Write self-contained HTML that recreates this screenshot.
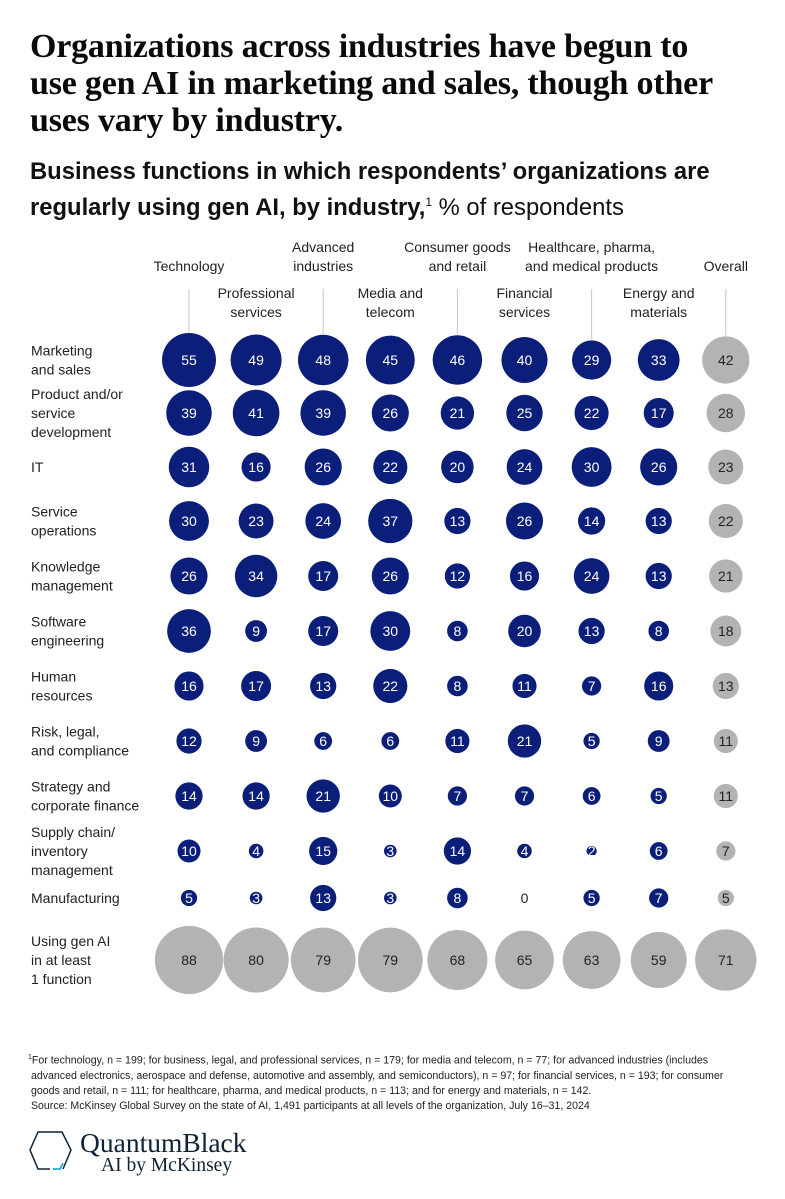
<!DOCTYPE html>
<html><head><meta charset="utf-8"><style>
body{margin:0;background:#fff;width:785px;height:1199px;overflow:hidden;font-family:"Liberation Sans",sans-serif;color:#111}
#title{position:absolute;left:30px;top:28px;width:690px;font-family:"Liberation Serif",serif;font-size:34px;line-height:37px;font-weight:bold;color:#0a0a0a;letter-spacing:-0.2px}
#sub{position:absolute;left:30px;top:156px;width:740px;font-size:23.8px;line-height:31px;color:#111}
#foot{position:absolute;left:28px;top:1050px;width:745px;font-size:10.6px;line-height:15px;color:#222}
</style></head><body>
<div id="title">Organizations across industries have begun to use gen AI in marketing and sales, though other uses vary by industry.</div>
<div id="sub"><b>Business functions in which respondents’ organizations are regularly using gen AI, by industry,</b><sup style="font-size:12px">1</sup> % of respondents</div>
<svg id="chart" width="785" height="1199" style="position:absolute;left:0;top:0"></svg>
<div id="foot"><sup style="font-size:7px">1</sup>For technology, n = 199; for business, legal, and professional services, n = 179; for media and telecom, n = 77; for advanced industries (includes<br>&nbsp;advanced electronics, aerospace and defense, automotive and assembly, and semiconductors), n = 97; for financial services, n = 193; for consumer<br>&nbsp;goods and retail, n = 111; for healthcare, pharma, and medical products, n = 113; and for energy and materials, n = 142.<br>&nbsp;Source: McKinsey Global Survey on the state of AI, 1,491 participants at all levels of the organization, July 16–31, 2024</div>
<svg width="260" height="60" style="position:absolute;left:28px;top:1128px">
<polyline points="22,41 10,41 2,22 10,4 34,4 43,22 35,41" fill="none" stroke="#0e2236" stroke-width="1.5"/>
<polyline points="25,41 32,41 35,35" fill="none" stroke="#2aa6e8" stroke-width="1.8"/>
<rect x="23" y="38" width="1.5" height="6" fill="#fff"/>
<text x="52" y="24" font-family="Liberation Serif,serif" font-size="27.5" fill="#0e2236">QuantumBlack</text>
<text x="73" y="43" font-family="Liberation Serif,serif" font-size="19.5" fill="#0e2236">AI by McKinsey</text>
</svg>
<script>
const industries=["Technology","Professional services","Advanced industries","Media and telecom","Consumer goods and retail","Financial services","Healthcare, pharma, and medical products","Energy and materials","Overall"];
const functions=["Marketing and sales","Product and/or service development","IT","Service operations","Knowledge management","Software engineering","Human resources","Risk, legal, and compliance","Strategy and corporate finance","Supply chain/ inventory management","Manufacturing","Using gen AI in at least 1 function"];
const v0=[55,39,31,30,26,36,16,12,14,10,5,88];
const v1=[49,41,16,23,34,9,17,9,14,4,3,80];
const v2=[48,39,26,24,17,17,13,6,21,15,13,79];
const v3=[45,26,22,37,26,30,22,6,10,3,3,79];
const v4=[46,21,20,13,12,8,8,11,7,14,8,68];
const v5=[40,25,24,26,16,20,11,21,7,4,0,65];
const v6=[29,22,30,14,24,13,7,5,6,2,5,63];
const v7=[33,17,26,13,13,8,16,9,5,6,7,59];
const v8=[42,28,23,22,21,18,13,11,11,7,5,71];
const values=[v0,v1,v2,v3,v4,v5,v6,v7,v8];
const headerLines=[["Technology"],["Professional","services"],["Advanced","industries"],["Media and","telecom"],["Consumer goods","and retail"],["Financial","services"],["Healthcare, pharma,","and medical products"],["Energy and","materials"],["Overall"]];
const rowLines=[["Marketing","and sales"],["Product and/or","service","development"],["IT"],["Service","operations"],["Knowledge","management"],["Software","engineering"],["Human","resources"],["Risk, legal,","and compliance"],["Strategy and","corporate finance"],["Supply chain/","inventory","management"],["Manufacturing"],["Using gen AI","in at least","1 function"]];
const NS="http://www.w3.org/2000/svg";
const svg=document.getElementById('chart');
const xCol=i=>189+i*67.1;
const rowY=[360,413,467,521,576,631,686,741,796,851,898,960];
const yRow=j=>rowY[j];
const rScale=v=>3.64*Math.sqrt(v);
function mk(t,a){const e=document.createElementNS(NS,t);for(const k in a)e.setAttribute(k,a[k]);svg.appendChild(e);return e;}
headerLines.forEach((ls,i)=>{
  const top=(i%2===0);
  const lastY=top?271:317;
  ls.forEach((l,k)=>{const t=mk('text',{x:xCol(i),y:lastY-(ls.length-1-k)*19,'text-anchor':'middle','font-size':'14','fill':'#222'});t.textContent=l;
  
  });
  if(top){const ln=mk('line',{x1:xCol(i),x2:xCol(i),y1:289,y2:yRow(0)-rScale(values[i][0])-1,stroke:'#c8c8c8','stroke-width':1});
  
  }
});
rowLines.forEach((ls,j)=>{
  const y0=yRow(j)-(ls.length-1)*9.5+5;
  ls.forEach((l,k)=>{const t=mk('text',{x:31,y:y0+k*19,'font-size':'14','fill':'#222'});t.textContent=l;
  
  });
});
values.forEach((col,i)=>{col.forEach((v,j)=>{
  const gray=(i===8||j===11);
  if(v>0){const c=mk('circle',{cx:xCol(i),cy:yRow(j),r:rScale(v),fill:gray?'#b3b3b3':'#0b1f7a'});
  
  }
  const t=mk('text',{x:xCol(i),y:yRow(j)+5,'text-anchor':'middle','font-size':'14',fill:(gray||v===0)?'#222':'#fff'});
  t.textContent=v;
  
  
});});
</script>
</body></html>
